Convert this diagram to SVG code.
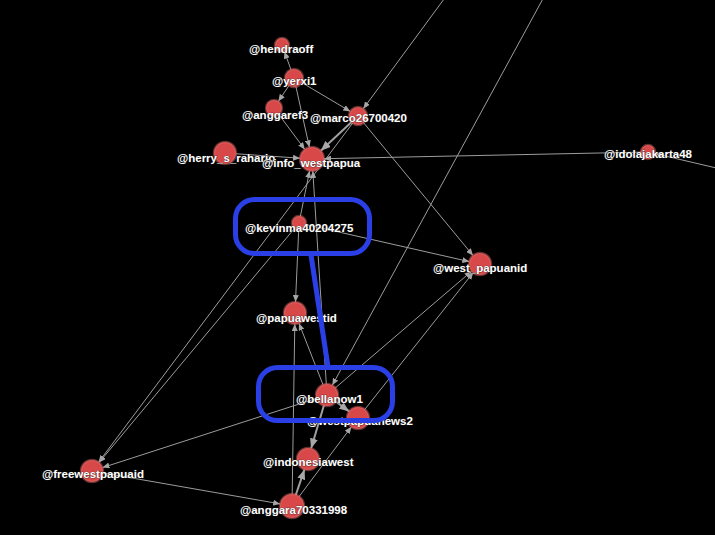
<svg xmlns="http://www.w3.org/2000/svg" width="715" height="535" viewBox="0 0 715 535">
<style>
.e{stroke:#9c9c9c;stroke-width:1;fill:none;marker-end:url(#a)}
.t{stroke:#a0a0a0;stroke-width:2;fill:none;marker-end:url(#b)}
.n{fill:#d84848;stroke:#e06a6a;stroke-opacity:0.45;stroke-width:2.5}
.l{font-family:"Liberation Sans",Arial,sans-serif;font-size:11.5px;font-weight:bold;fill:#ffffff;stroke:#222;stroke-width:0.6;paint-order:stroke}
.h{fill:none;stroke:#2a40e6;stroke-width:5}
</style>
<defs>
<marker id="a" markerUnits="userSpaceOnUse" markerWidth="8" markerHeight="6" refX="7" refY="3" orient="auto"><path d="M0,0 L7,3 L0,6 z" fill="#a6a6a6"/></marker>
<marker id="b" markerUnits="userSpaceOnUse" markerWidth="11" markerHeight="8" refX="10" refY="4" orient="auto"><path d="M0,0 L10,4 L0,8 z" fill="#a8a8a8"/></marker>
</defs>
<rect width="715" height="535" fill="#000"/>
<g id="edges">
<line class="e" x1="294" y1="78" x2="284.4" y2="51.6"/>
<line class="e" x1="294" y1="78" x2="278.4" y2="101.3"/>
<line class="e" x1="294" y1="78" x2="309.4" y2="147.3"/>
<line class="e" x1="294" y1="78" x2="350.3" y2="111.4"/>
<line class="e" x1="274" y1="108" x2="304.8" y2="149.4"/>
<line class="t" x1="358" y1="116" x2="320.8" y2="150.8"/>
<line class="e" x1="358" y1="116" x2="473" y2="255.5"/>
<line class="e" x1="358" y1="116" x2="98.6" y2="462.2"/>
<line class="e" x1="447" y1="-5" x2="363.3" y2="108.7"/>
<line class="e" x1="545" y1="-5" x2="332.3" y2="385.3"/>
<line class="e" x1="225" y1="153" x2="300" y2="158.2"/>
<line class="e" x1="648" y1="152" x2="324" y2="158.7"/>
<line class="e" x1="725" y1="170" x2="654.8" y2="153.6"/>
<line class="e" x1="299" y1="223" x2="309.6" y2="170.8"/>
<line class="e" x1="299" y1="223" x2="295.5" y2="302"/>
<line class="e" x1="299" y1="223" x2="469.3" y2="261.6"/>
<line class="e" x1="299" y1="223" x2="99" y2="462.6"/>
<line class="e" x1="327" y1="395" x2="312.8" y2="171"/>
<line class="e" x1="327" y1="395" x2="299" y2="323.3"/>
<line class="t" x1="327" y1="395" x2="349.2" y2="411.4"/>
<line class="t" x1="327" y1="395" x2="311.1" y2="448.5"/>
<line class="e" x1="327" y1="395" x2="102.5" y2="467.6"/>
<line class="e" x1="327" y1="395" x2="471.6" y2="271.2"/>
<line class="e" x1="358" y1="418" x2="473.2" y2="272.6"/>
<line class="e" x1="292" y1="506" x2="294.8" y2="324"/>
<line class="t" x1="292" y1="506" x2="304.5" y2="469.4"/>
<line class="e" x1="292" y1="506" x2="351.4" y2="426.8"/>
<line class="e" x1="92" y1="471" x2="280.2" y2="503.9"/>
</g>
<g id="hendraoff"><circle class="n" cx="282" cy="45" r="7"/><text class="l" x="249" y="53">@hendraoff</text></g>
<g id="yerxi1"><circle class="n" cx="294" cy="78" r="9"/><text class="l" x="272" y="85">@yerxi1</text></g>
<g id="anggaref3"><circle class="n" cx="274" cy="108" r="8"/><text class="l" x="242" y="119">@anggaref3</text></g>
<g id="marco26700420"><circle class="n" cx="358" cy="116" r="9"/><text class="l" x="310" y="122">@marco26700420</text></g>
<g id="herry_s_raharjo"><circle class="n" cx="225" cy="153" r="11"/><text class="l" x="177" y="162">@herry_s_raharjo</text></g>
<g id="info_westpapua"><circle class="n" cx="312" cy="159" r="12"/><text class="l" x="262" y="167">@info_westpapua</text></g>
<g id="idolajakarta48"><circle class="n" cx="648" cy="152" r="7"/><text class="l" x="604" y="158">@idolajakarta48</text></g>
<g id="kevinma40204275"><circle class="n" cx="299" cy="223" r="7"/><text class="l" x="245" y="232">@kevinma40204275</text></g>
<g id="west_papuanid"><circle class="n" cx="480" cy="264" r="11"/><text class="l" x="433" y="272">@west_papuanid</text></g>
<g id="papuawestid"><circle class="n" cx="295" cy="313" r="11"/><text class="l" x="256" y="322">@papuawestid</text></g>
<g id="bellanow1"><circle class="n" cx="327" cy="395" r="11"/><text class="l" x="296" y="403">@bellanow1</text></g>
<g id="westpapuanews2"><circle class="n" cx="358" cy="418" r="11"/><text class="l" x="307" y="425">@westpapuanews2</text></g>
<g id="indonesiawest"><circle class="n" cx="308" cy="459" r="11"/><text class="l" x="263" y="466">@indonesiawest</text></g>
<g id="anggara70331998"><circle class="n" cx="292" cy="506" r="12"/><text class="l" x="240" y="514">@anggara70331998</text></g>
<g id="freewestpapuaid"><circle class="n" cx="92" cy="471" r="11"/><text class="l" x="42" y="478">@freewestpapuaid</text></g>
<g id="highlights">
<rect class="h" x="235.5" y="199.5" width="134" height="54" rx="19"/>
<rect class="h" x="258.5" y="367.5" width="134" height="53" rx="19"/>
<line x1="311" y1="255" x2="328" y2="367" stroke="#2a40e6" stroke-width="5"/>
</g>
</svg>
